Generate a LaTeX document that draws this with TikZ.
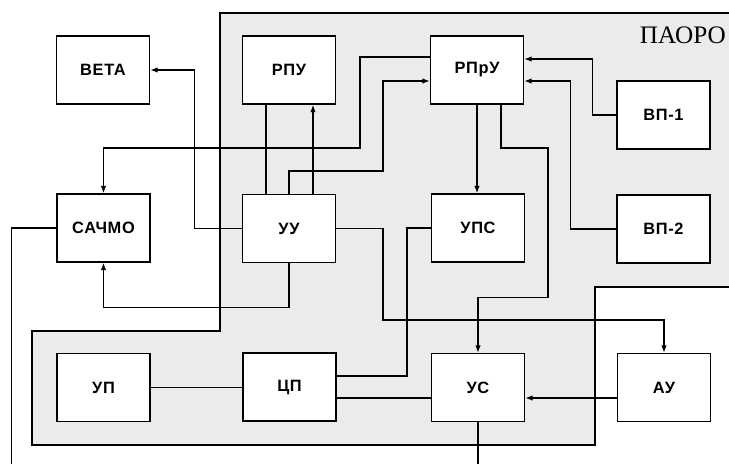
\documentclass[tikz,border=0pt]{standalone}
\usepackage{fontspec}
\setmainfont{Liberation Sans}[LetterSpace=4]
\newfontfamily\titlefont{Liberation Serif}
\usetikzlibrary{arrows.meta,calc}

\tikzset{
  blk/.style={draw, line width=1.2pt, fill=white, minimum width=2.79cm, minimum height=2.04cm,
    inner sep=0pt, font=\bfseries\fontsize{14}{16}\selectfont},
  wire/.style={line width=1pt},
  arr/.style={wire, -{Latex[length=2.2mm,width=1.6mm]}}
}

\begin{document}
\begin{tikzpicture}[x=0.03cm, y=-0.03cm]
	\useasboundingbox (0,0) rectangle (729,464);
	\fill[gray!16] (220,13) -- (729,13) -- (729,287) -- (595,287) -- (595,445) -- (32,445) -- (32,331) -- (220,331) -- cycle;
	\draw[line width=1.2pt] (729,13) -- (220,13) -- (220,331) -- (32,331) -- (32,445) -- (595,445) -- (595,287) -- (729,287);
	\node[anchor=east, inner sep=0pt, font=\titlefont\fontsize{21.5}{23}\selectfont] (paoro) at (726,35) {ПАОРО};

	\node[blk] (veta) at (103,70) {ВЕТА};
	\node[blk] (rpu) at (289,70) {РПУ};
	\node[blk] (rpru) at (477,70) {РПрУ};
	\node[blk] (vp1) at (663.5,115) {ВП-1};
	\node[blk] (sachmo) at (103.5,228) {САЧМО};
	\node[blk] (uu) at (289,228.5) {УУ};
	\node[blk] (ups) at (478,228) {УПС};
	\node[blk] (vp2) at (663.5,229) {ВП-2};
	\node[blk] (up) at (103.5,387.5) {УП};
	\node[blk] (cp) at (289.5,387) {ЦП};
	\node[blk] (us) at (478,387.5) {УС};
	\node[blk] (au) at (664,387.5) {АУ};

	\draw[arr] (uu.west) -- ++(-47,0) |- (veta.east);
	\draw[arr] ($(rpru.west)+(0,-13)$) -| (360,148) -| (sachmo.north);
	\draw[wire] ($(rpu.south)+(-23,0)$) -- ($(uu.north)+(-23,0)$);
	\draw[arr] ($(uu.north)+(24,0)$) -- ($(rpu.south)+(24,0)$);
	\draw[arr] (uu.north) |- (383,171) |- ($(rpru.west)+(0,11)$);
	\draw[arr] (vp1.west) -- ++(-24,0) |- ($(rpru.east)+(0,-11)$);
	\draw[arr] (vp2.west) -- ++(-46,0) |- ($(rpru.east)+(0,11)$);
	\draw[arr] (rpru.south) -- (rpru.south |- ups.north);
	\draw[arr] ($(rpru.south)+(24,0)$) |- (548,148) |- ($(us.north)+(0,-55)$) -- (us.north);
	\draw[arr] (uu.east) -| (383,320) -| (au.north);
	\draw[wire] (ups.west) -| (407,300) |- ($(cp.east)+(0,-11)$);
	\draw[wire] ($(cp.east)+(0,11)$) -- ($(us.west)+(0,10.5)$);
	\draw[arr] ($(au.west)+(0,10.5)$) -- ($(us.east)+(0,10.5)$);
	\draw[wire] (us.south) -- ++(0,42) coordinate (usout);
	\draw[wire] (up.east) -- (up.east -| cp.west);
	\draw[arr] (uu.south) -- ++(0,44) -| (sachmo.south);
	\draw[wire] (sachmo.west) -- ++(-45,0) -- ++(0,236) coordinate (sachout);
\end{tikzpicture}
\end{document}
